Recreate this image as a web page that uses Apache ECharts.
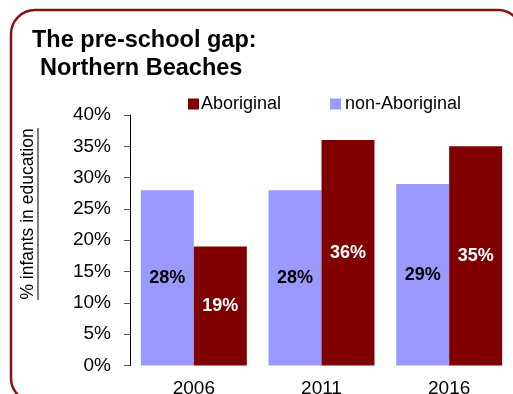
<!DOCTYPE html>
<html>
<head>
<meta charset="utf-8">
<script src="https://cdn.jsdelivr.net/npm/echarts@6/dist/echarts.min.js"></script>
<style>
  html, body { margin: 0; padding: 0; background: #fff; }
  #chart { width: 513px; height: 394px; }
</style>
</head>
<body>
<div id="chart"></div>
<script>
// Pre-school participation, Northern Beaches
const years = ['2006', '2011', '2016'];
const nonAboriginal = [28, 28, 29];
const aboriginal = [19, 36, 35];
const yTicks = [0, 5, 10, 15, 20, 25, 30, 35, 40];

const FONT = '"Liberation Sans", Arial, sans-serif';
const chart = echarts.init(document.getElementById('chart'), null, { renderer: 'canvas' });

chart.setOption({
  backgroundColor: '#fff',
  animation: false,
  title: [
    { text: 'The pre-school gap:', left: 27, top: 24,
      textStyle: { fontFamily: FONT, fontSize: 23.5, fontWeight: 'bold', color: '#000' } },
    { text: 'Northern Beaches', left: 35, top: 52,
      textStyle: { fontFamily: FONT, fontSize: 23.5, fontWeight: 'bold', color: '#000' } }
  ],
  legend: [
    { data: ['Aboriginal'], left: 183, top: 90, itemWidth: 11, itemHeight: 11,
      icon: 'rect', textStyle: { fontFamily: FONT, fontSize: 18, color: '#000', padding: [0, 0, 0, -3] } },
    { data: ['non-Aboriginal'], left: 325, top: 90, itemWidth: 11, itemHeight: 11,
      icon: 'rect', textStyle: { fontFamily: FONT, fontSize: 18, color: '#000', padding: [0, 0, 0, -1] } }
  ],
  grid: { left: 130, right: 0, top: 115, bottom: 28.5, containLabel: false, outerBoundsMode: 'none' },
  xAxis: {
    type: 'category',
    data: years,
    axisLine: { show: false },
    axisTick: { show: false },
    axisLabel: { fontFamily: FONT, fontSize: 19, color: '#000', margin: 13.5 }
  },
  yAxis: {
    type: 'value',
    min: yTicks[0],
    max: yTicks[yTicks.length - 1],
    interval: 5,
    axisLine: { show: true, lineStyle: { color: '#000', width: 1 } },
    axisTick: { show: true, length: 6, lineStyle: { color: '#555' } },
    splitLine: { show: false },
    axisLabel: { fontFamily: FONT, fontSize: 19, color: '#000', margin: 19,
      formatter: v => v + '%' }
  },
  series: [
    {
      name: 'non-Aboriginal', type: 'bar', data: nonAboriginal,
      barGap: '0%', barCategoryGap: '17%',
      itemStyle: { color: '#9999ff' },
      label: { show: true, position: 'inside', fontFamily: FONT, fontSize: 18,
        fontWeight: 'bold', color: '#000', formatter: p => p.value + '%' }
    },
    {
      name: 'Aboriginal', type: 'bar', data: aboriginal,
      barGap: '0%', barCategoryGap: '17%',
      itemStyle: { color: '#800000' },
      label: { show: true, position: 'inside', fontFamily: FONT, fontSize: 18,
        fontWeight: 'bold', color: '#fff', formatter: p => p.value + '%' }
    }
  ],
  graphic: [
    { type: 'rect', shape: { x: 11, y: 10, width: 511, height: 392, r: 24 },
      style: { fill: 'none', stroke: '#8b1111', lineWidth: 2.5 }, z: 10 },
    { type: 'text', x: 28, y: 214, rotation: Math.PI / 2, z: 10,
      style: { text: '% infants in education', fontFamily: FONT, fontSize: 17.5,
        fill: '#000', align: 'center', verticalAlign: 'middle' } },
    { type: 'rect', shape: { x: 37.5, y: 128, width: 1, height: 172 },
      style: { fill: '#000' }, z: 10 }
  ]
});
</script>
</body>
</html>
